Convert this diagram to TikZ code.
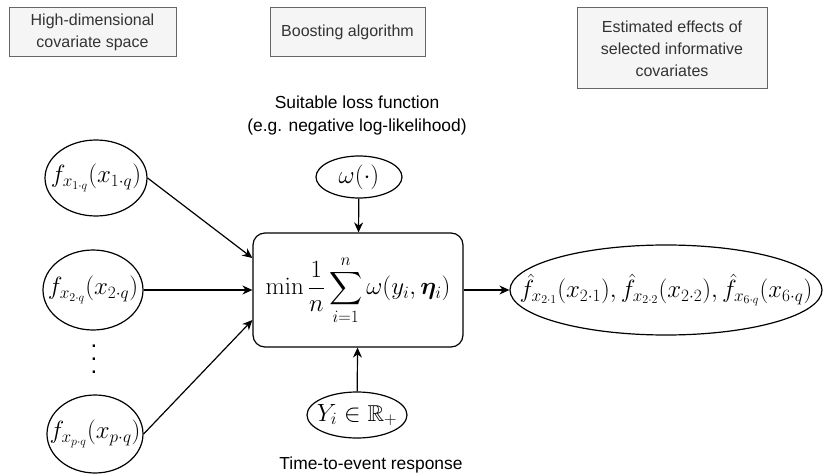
\documentclass[tikz,border=0pt]{standalone}
\usepackage{amsmath,amssymb,bm}
\usepackage[no-math]{fontspec}
\setmainfont{Liberation Sans}
\usetikzlibrary{shapes.geometric,arrows.meta}
\definecolor{boxfill}{HTML}{F5F5F5}
\definecolor{boxline}{HTML}{666666}
\definecolor{boxtext}{HTML}{333333}
\newcommand{\zw}[1]{\makebox[0pt]{#1}}
\begin{document}
\begin{tikzpicture}[x=1pt,y=-1pt,
  headbox/.style={draw=boxline,fill=boxfill,text=boxtext,line width=1pt,inner sep=0pt,align=center,font=\fontsize{16}{22}\selectfont},
  lbl/.style={align=center,inner sep=0pt,font=\fontsize{17.4}{23}\selectfont},
  ell/.style={draw,ellipse,line width=1.2pt,inner sep=0pt,font=\fontsize{23}{28}\selectfont},
  arr/.style={line width=1.2pt,-{Stealth[length=10pt,width=9pt]}}]
\useasboundingbox (0,0) rectangle (825,476);
\node[headbox,minimum width=167pt,minimum height=49pt] (b1) at (92.5,32) {High-dimensional\\covariate space};
\node[headbox,minimum width=155pt,minimum height=49pt] (b2) at (347.5,32.5) {Boosting algorithm};
\node[headbox,minimum width=190pt,minimum height=81pt] (b3) at (672,48.5) {Estimated effects of\\selected informative\\covariates};
\node[lbl] (loss) at (357,116) {Suitable loss function\\(e.g. negative log-likelihood)};
\node[ell,minimum width=86pt,minimum height=42pt] (om) at (359,177) {\zw{$\omega(\cdot)$}};
\node[draw,rounded corners=12pt,line width=1.2pt,minimum width=210pt,minimum height=114pt,inner sep=0pt,font=\fontsize{23}{28}\selectfont] (main) at (358,290) {$\displaystyle\min\frac{1}{n}\sum_{i=1}^{n}\omega(y_i,\bm{\eta}_i)$};
\node[ell,minimum width=100pt,minimum height=46pt] (Y) at (357,415) {\zw{$Y_i\in\mathbb{R}_+$}};
\node[lbl] (tte) at (371,465) {Time-to-event response};
\node[ell,minimum width=102pt,minimum height=76pt] (e1) at (96,178) {\zw{$f_{x_{1\cdot q}}(x_{1\cdot q})$}};
\node[ell,minimum width=100pt,minimum height=80pt] (e2) at (93,290) {\zw{$f_{x_{2\cdot q}}(x_{2\cdot q})$}};
\node[ell,minimum width=96pt,minimum height=78pt] (ep) at (95,434) {\zw{$f_{x_{p\cdot q}}(x_{p\cdot q})$}};
\node[align=center,inner sep=0pt,font=\fontsize{24}{13}\selectfont] (dots) at (94,359) {.\\.\\.};
\node[ell,minimum width=312pt,minimum height=90pt] (out) at (666,290) {\zw{$\hat f_{x_{2\cdot 1}}(x_{2\cdot 1}),\hat f_{x_{2\cdot 2}}(x_{2\cdot 2}),\hat f_{x_{6\cdot q}}(x_{6\cdot q})$}};
\draw[arr] (e1.east) -- ([yshift=32pt]main.west);
\draw[arr] (e2.east) -- (main.west);
\draw[arr] (ep.east) -- ([yshift=-30pt]main.west);
\draw[arr] (om) -- (main);
\draw[arr] (Y) -- (main);
\draw[arr] (main) -- (out);
\end{tikzpicture}
\end{document}
